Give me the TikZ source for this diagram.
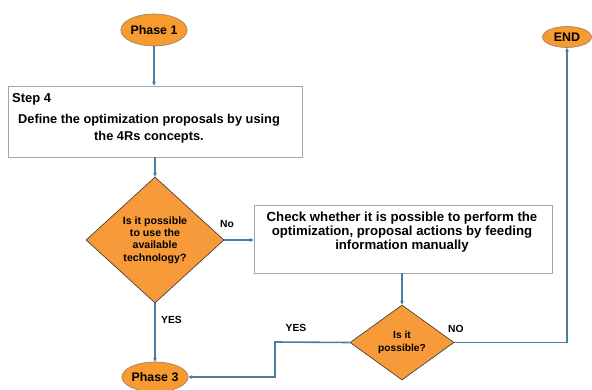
\documentclass[tikz,border=0pt]{standalone}
\usepackage{fontspec}
\setmainfont{Liberation Sans}
\usetikzlibrary{shapes.geometric,arrows.meta}
\definecolor{flowblue}{HTML}{4A7EA3}
\definecolor{orangefill}{HTML}{F79A30}
\definecolor{diamondfill}{HTML}{F79A3A}
\definecolor{boxgray}{HTML}{A6A6A6}
\begin{document}
\begin{tikzpicture}[x=1pt,y=-1pt,
  phase/.style={ellipse,draw=gray!70!brown,fill=orangefill,inner sep=0pt,line width=0.6pt,
    font=\fontsize{12.4}{14}\selectfont\bfseries},
  stepbox/.style={rectangle,draw=boxgray,fill=white,line width=0.8pt,inner sep=0pt},
  decision/.style={diamond,draw=black!80,fill=diamondfill,inner sep=0pt,line width=0.6pt,align=center},
  conn/.style={draw=flowblue,line width=1.6pt},
  arr/.style={conn,-{Stealth[length=4pt,width=4pt]}},
  lbl/.style={font=\fontsize{10.3}{12}\selectfont\bfseries,inner sep=0pt}
]
\useasboundingbox (0,0) rectangle (592,390);

\node[phase,minimum width=60pt,minimum height=32pt] (p1) at (154,30) {Phase 1};
\node[phase,minimum width=49pt,minimum height=21pt] (end) at (567,37) {END};
\node[phase,minimum width=58pt,minimum height=30pt] (p3) at (155,377) {Phase 3};

\node[stepbox,minimum width=294pt,minimum height=71pt] (s4) at (155,121.5) {};
\node[anchor=west,inner sep=0pt,font=\fontsize{13}{15}\selectfont\bfseries] (s4t) at (12,99) {Step 4};
\node[align=center,inner sep=0pt,font=\fontsize{12.8}{16.7}\selectfont\bfseries] (s4d) at (149,129) {Define the optimization proposals by using\\the 4Rs concepts.};

\node[decision,minimum width=138pt,minimum height=126pt,font=\fontsize{10.6}{12.3}\selectfont\bfseries] (d1) at (155,240) {Is it possible\\to use the\\available\\technology?};

\node[stepbox,minimum width=298pt,minimum height=68pt] (chk) at (403,239) {};
\node[align=center,inner sep=0pt,font=\fontsize{13.2}{14.3}\selectfont\bfseries] (chkt) at (402,232) {Check whether it is possible to perform the\\optimization, proposal actions by feeding\\information manually};

\node[decision,minimum width=104pt,minimum height=75pt,font=\fontsize{10.2}{12.7}\selectfont\bfseries] (d2) at (402,342.5) {Is it\\possible?};

\coordinate (yb) at (275,342);

\draw[arr] (p1.south) -- (p1.south |- s4.north);
\draw[arr] (s4.south -| d1.north) -- (d1.north);
\draw[arr] (d1.east) -- (chk.west |- d1.east);
\draw[arr] (d1.south) -- (p3.north);
\draw[arr] (chk.south -| d2.north) -- (d2.north);
\draw[arr] (d2.east) -| (end.south);
\draw[arr] (d2.west) -- (yb) |- (p3.east);

\node[lbl] (lno) at (227,224) {No};
\node[lbl,anchor=west] (lyes1) at (161,320) {YES};
\node[lbl] (lyes2) at (296,328) {YES};
\node[lbl,anchor=west] (lno2) at (448,329) {NO};
\end{tikzpicture}
\end{document}
